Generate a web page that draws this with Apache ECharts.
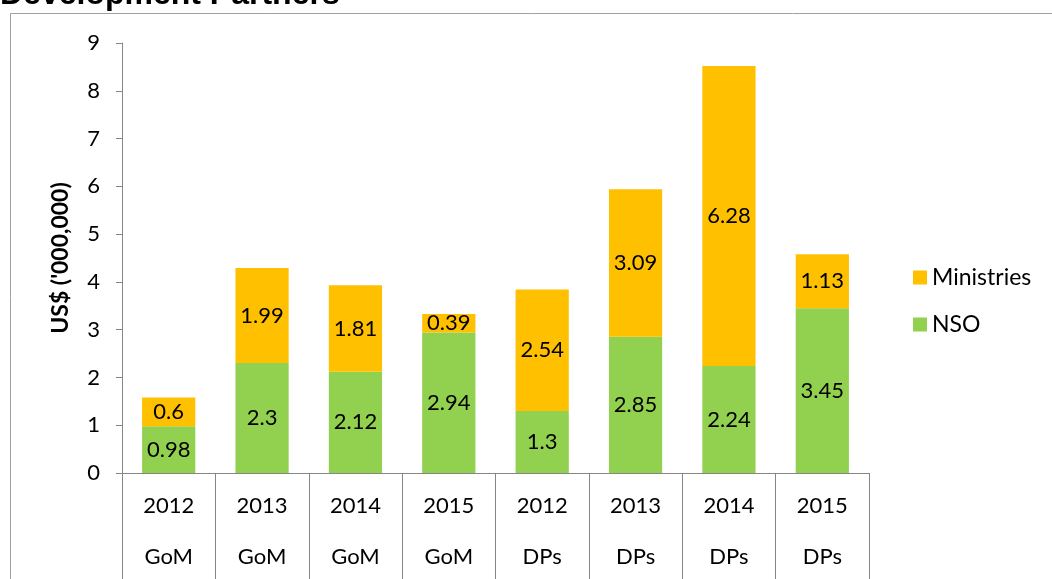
<!DOCTYPE html>
<html>
<head>
<meta charset="utf-8">
<script src="https://cdn.jsdelivr.net/npm/echarts@6/dist/echarts.min.js"></script>
<style>
  html, body { margin: 0; padding: 0; background: #fff; }
  #main { width: 1052px; height: 579px; }
</style>
</head>
<body>
<div id="main"></div>
<script>
var years = ['2012', '2013', '2014', '2015', '2012', '2013', '2014', '2015'];
var groups = ['GoM', 'GoM', 'GoM', 'GoM', 'DPs', 'DPs', 'DPs', 'DPs'];
var nso = [0.98, 2.3, 2.12, 2.94, 1.3, 2.85, 2.24, 3.45];
var ministries = [0.6, 1.99, 1.81, 0.39, 2.54, 3.09, 6.28, 1.13];
var yTicks = { min: 0, max: 9, interval: 1 };

var chartDom = document.getElementById('main');
var myChart = echarts.init(chartDom);
var font = 'Lato, "Open Sans", sans-serif';
var axisGray = '#868686';

var option = {
  animation: false,
  graphic: [
    {
      type: 'rect',
      shape: { x: 10.5, y: 13.5, width: 1100, height: 600 },
      style: { fill: 'none', stroke: '#a0a0a0', lineWidth: 1 },
      silent: true
    },
    {
      type: 'text',
      left: 0,
      top: -21,
      style: {
        text: 'Development Partners',
        font: 'bold 32px Arial, "Liberation Sans", sans-serif',
        fill: '#000'
      }
    }
  ],
  legend: {
    orient: 'vertical',
    left: 908,
    top: 261,
    itemWidth: 14,
    itemHeight: 14,
    itemGap: 24,
    icon: 'rect',
    textStyle: { fontFamily: font, fontSize: 23, color: '#000' },
    data: ['Ministries', 'NSO']
  },
  grid: { left: 122, right: 183, top: 43, bottom: 106, containLabel: false },
  xAxis: [
    {
      type: 'category',
      data: years,
      axisLine: { lineStyle: { color: axisGray } },
      axisTick: { show: true, interval: 0, alignWithLabel: false, length: 106, lineStyle: { color: axisGray } },
      axisLabel: { margin: 22, fontFamily: font, fontSize: 22, color: '#000' }
    },
    {
      type: 'category',
      position: 'bottom',
      data: groups,
      axisLine: { show: false },
      axisTick: { show: false },
      axisLabel: { margin: 73, fontFamily: font, fontSize: 22, color: '#000' }
    }
  ],
  yAxis: {
    type: 'value',
    min: yTicks.min,
    max: yTicks.max,
    interval: yTicks.interval,
    name: "US$ ('000,000)",
    nameLocation: 'middle',
    nameGap: 50,
    nameTextStyle: { fontFamily: font, fontWeight: 'bold', fontSize: 23, color: '#000' },
    axisLine: { show: true, lineStyle: { color: axisGray } },
    axisTick: { show: true, length: 6, lineStyle: { color: axisGray } },
    axisLabel: { margin: 22, fontFamily: font, fontSize: 22, color: '#000' },
    splitLine: { show: false }
  },
  series: [
    {
      name: 'NSO',
      type: 'bar',
      stack: 'total',
      barWidth: '57%',
      data: nso,
      itemStyle: { color: '#92D050' },
      label: { show: true, position: 'inside', fontFamily: font, fontSize: 22, color: '#000' }
    },
    {
      name: 'Ministries',
      type: 'bar',
      stack: 'total',
      barWidth: '57%',
      data: ministries,
      itemStyle: { color: '#FFC000' },
      label: { show: true, position: 'inside', fontFamily: font, fontSize: 22, color: '#000' }
    }
  ]
};
myChart.setOption(option);
</script>
</body>
</html>
